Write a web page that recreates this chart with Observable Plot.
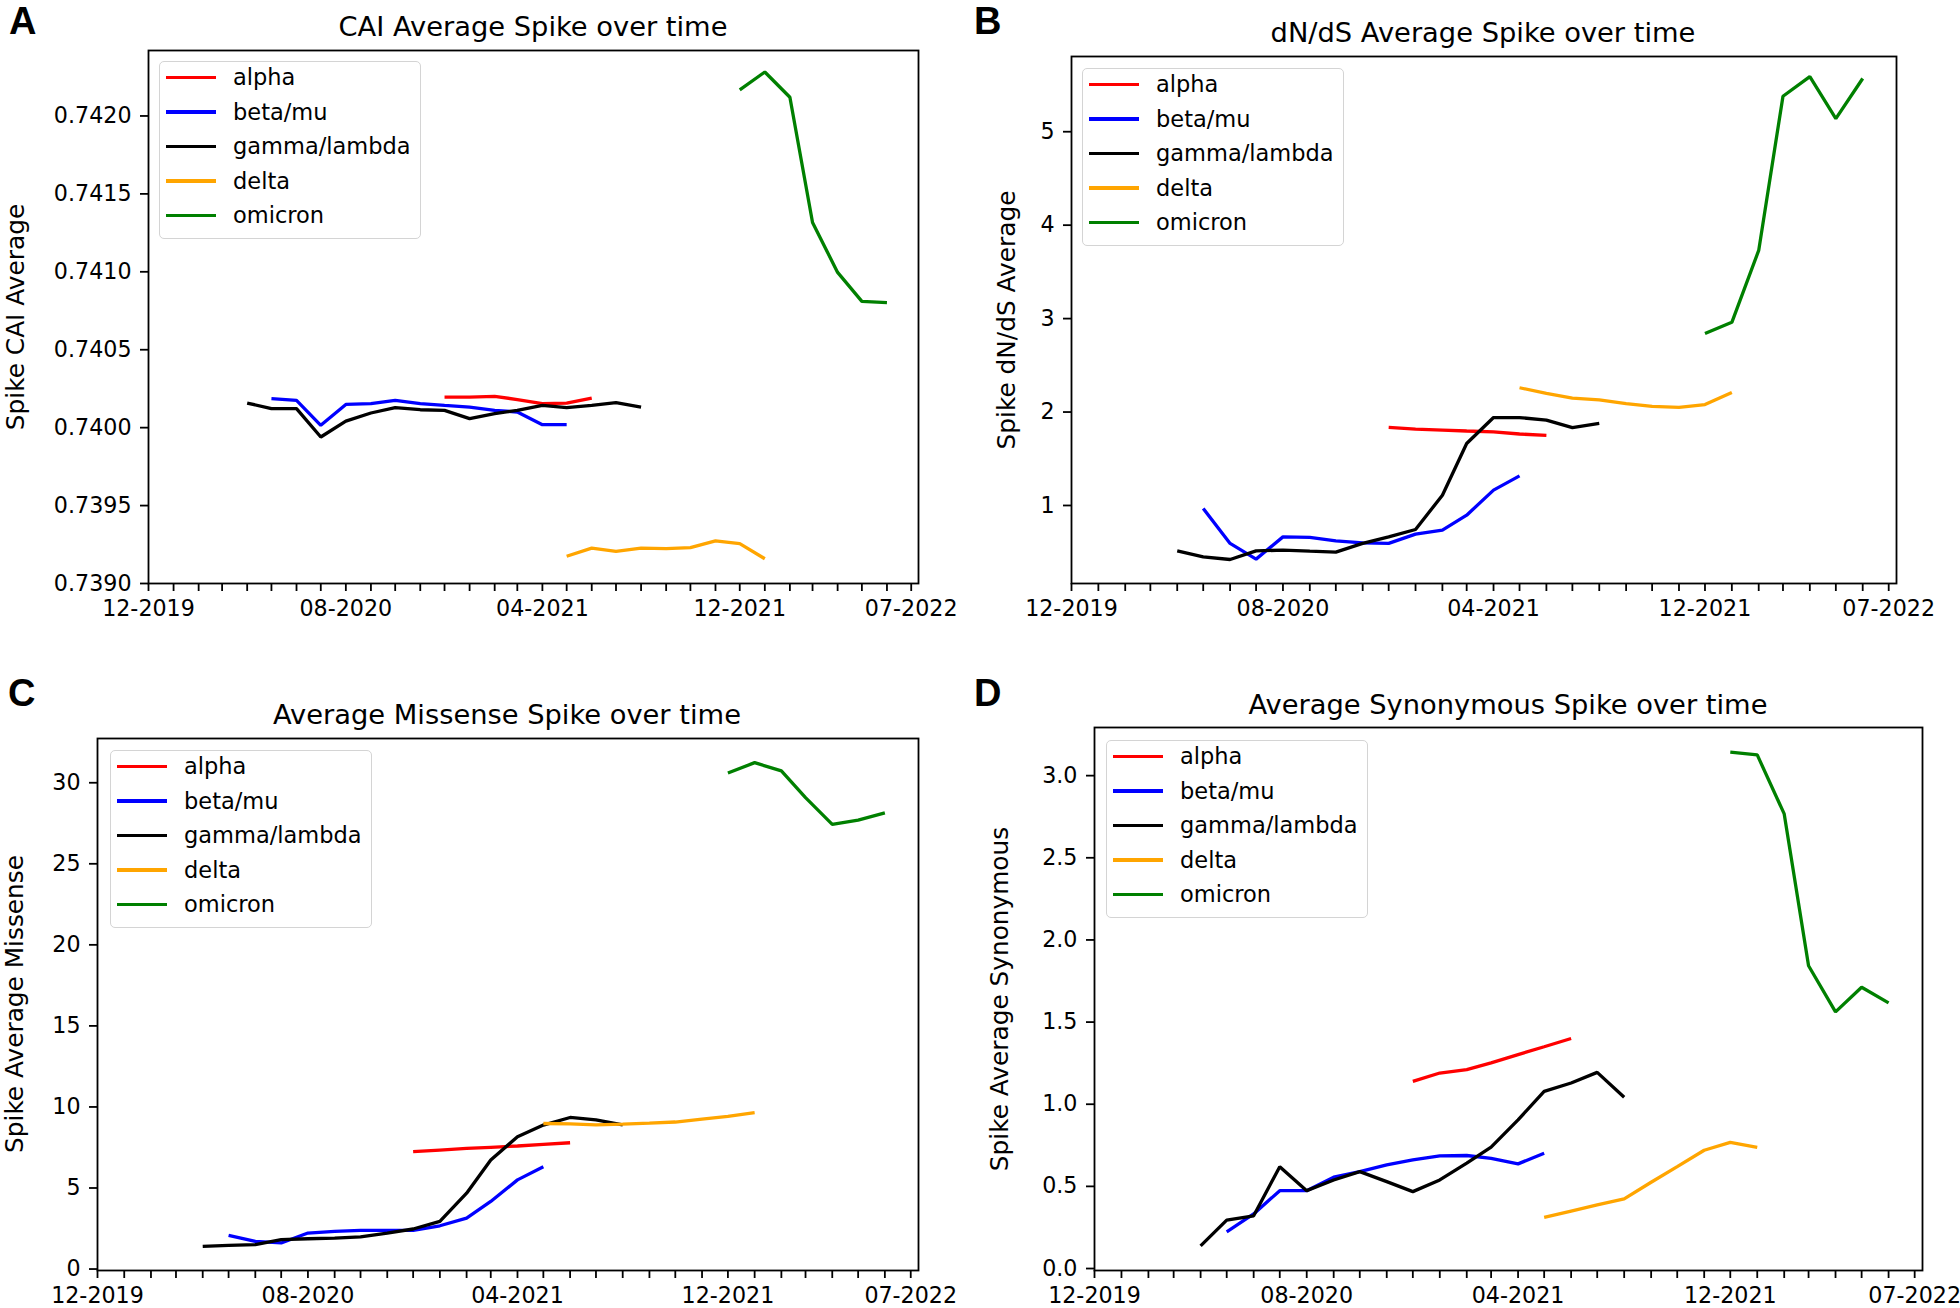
<!DOCTYPE html>
<html><head><meta charset="utf-8">
<script src="https://cdn.jsdelivr.net/npm/d3@7"></script>
<script src="https://cdn.jsdelivr.net/npm/@observablehq/plot@0.6"></script>
<style>
body{margin:0;background:#fff;}
#fig{position:relative;width:1960px;height:1308px;background:#fff;font-family:"DejaVu Sans",sans-serif;overflow:hidden;color:#000;}
.panel{position:absolute;}
.title{position:absolute;font-size:27.3px;line-height:1.164;white-space:nowrap;transform:translateX(-50%);}
.letter{position:absolute;font-family:"Liberation Sans",Arial,sans-serif;font-weight:bold;font-size:38px;line-height:1.117;}
.ylab{position:absolute;font-size:24.8px;line-height:1.164;white-space:nowrap;transform:translate(-50%,-50%) rotate(-90deg);}
.legend{position:absolute;width:262px;height:178px;border:1.5px solid #d4d4d4;border-radius:5px;background:rgba(255,255,255,0.8);box-sizing:border-box;}
.legend .row{position:absolute;left:0;height:30px;display:flex;align-items:center;}
.legend .sw{width:50px;height:3.4px;margin-left:6px;margin-right:17px;}
.legend .lt{font-size:22.5px;line-height:1.164;white-space:nowrap;}
</style></head>
<body>
<div id="fig"></div>
<script>
// ---- categories ----
const variantNames = ["alpha", "beta/mu", "gamma/lambda", "delta", "omicron"];
const variantColors = ["red", "blue", "black", "orange", "green"];

// ---- sampling months per variant ----
const alphaMonths = ["2020-12","2021-01","2021-02","2021-03","2021-04","2021-05","2021-06"];
const betaMonths = ["2020-05","2020-06","2020-07","2020-08","2020-09","2020-10","2020-11","2020-12","2021-01","2021-02","2021-03","2021-04","2021-05"];
const gammaMonths = ["2020-04","2020-05","2020-06","2020-07","2020-08","2020-09","2020-10","2020-11","2020-12","2021-01","2021-02","2021-03","2021-04","2021-05","2021-06","2021-07","2021-08"];
const deltaMonths = ["2021-05","2021-06","2021-07","2021-08","2021-09","2021-10","2021-11","2021-12","2022-01"];
const omicronMonths = ["2021-12","2022-01","2022-02","2022-03","2022-04","2022-05","2022-06"];

// ---- A: CAI ----
const caiAlpha = [0.740196, 0.740196, 0.740201, 0.740180, 0.740154, 0.740158, 0.740190];
const caiBeta = [0.740186, 0.740175, 0.740015, 0.740149, 0.740154, 0.740175, 0.740154, 0.740143, 0.740132, 0.740111, 0.740100, 0.740019, 0.740019];
const caiGamma = [0.740158, 0.740122, 0.740122, 0.739940, 0.740042, 0.740094, 0.740128, 0.740115, 0.740111, 0.740058, 0.740090, 0.740111, 0.740143, 0.740128, 0.740143, 0.740160, 0.740132];
const caiDelta = [0.739175, 0.739227, 0.739206, 0.739227, 0.739224, 0.739230, 0.739274, 0.739256, 0.739159];
const caiOmicron = [0.742167, 0.742282, 0.742120, 0.741316, 0.740996, 0.740810, 0.740802];

// ---- B: dN/dS ----
const dndsAlpha = [1.835, 1.818, 1.807, 1.797, 1.787, 1.765, 1.750];
const dndsBeta = [0.968, 0.594, 0.426, 0.664, 0.658, 0.622, 0.600, 0.594, 0.693, 0.736, 0.896, 1.164, 1.317];
const dndsGamma = [0.514, 0.450, 0.422, 0.514, 0.522, 0.511, 0.501, 0.594, 0.664, 0.743, 1.110, 1.663, 1.941, 1.941, 1.913, 1.834, 1.878];
const dndsDelta = [2.26, 2.20, 2.15, 2.13, 2.09, 2.06, 2.05, 2.08, 2.21];
const dndsOmicron = [2.84, 2.96, 3.73, 5.38, 5.59, 5.14, 5.57];

// ---- C: Missense ----
const misAlpha = [7.24, 7.34, 7.44, 7.51, 7.59, 7.69, 7.79];
const misBeta = [2.08, 1.71, 1.61, 2.22, 2.32, 2.38, 2.38, 2.38, 2.67, 3.14, 4.17, 5.50, 6.31];
const misGamma = [1.40, 1.46, 1.51, 1.81, 1.87, 1.91, 1.98, 2.22, 2.47, 2.94, 4.68, 6.73, 8.16, 8.88, 9.35, 9.20, 8.89];
const misDelta = [8.98, 8.96, 8.90, 8.94, 9.00, 9.07, 9.25, 9.42, 9.65];
const misOmicron = [30.60, 31.24, 30.73, 29.08, 27.43, 27.69, 28.14];

// ---- D: Synonymous ----
const synAlpha = [1.139, 1.190, 1.211, 1.252, 1.302, 1.350, 1.400];
const synBeta = [0.223, 0.332, 0.474, 0.474, 0.556, 0.590, 0.631, 0.661, 0.686, 0.688, 0.670, 0.637, 0.702];
const synGamma = [0.138, 0.295, 0.321, 0.620, 0.474, 0.539, 0.590, 0.529, 0.468, 0.539, 0.641, 0.739, 0.905, 1.078, 1.129, 1.194, 1.042];
const synDelta = [0.311, 0.350, 0.387, 0.424, 0.525, 0.620, 0.720, 0.768, 0.738];
const synOmicron = [3.143, 3.126, 2.767, 1.843, 1.562, 1.712, 1.617];

// ---- ticks ----
const caiTicks = [0.7390, 0.7395, 0.7400, 0.7405, 0.7410, 0.7415, 0.7420];
const dndsTicks = [1, 2, 3, 4, 5];
const misTicks = [0, 5, 10, 15, 20, 25, 30];
const synTicks = [0.0, 0.5, 1.0, 1.5, 2.0, 2.5, 3.0];
const xLabelMonths = ["2019-12", "2020-08", "2021-04", "2021-12", "2022-07"];
const xDomain = ["2019-12-01", "2022-07-10"];

const monthsBySeries = [alphaMonths, betaMonths, gammaMonths, deltaMonths, omicronMonths];
const toDate = m => new Date(m + "-01T00:00:00Z");
const monthTicks = d3.utcMonth.range(toDate("2019-12"), toDate("2022-08"));
const fmtKey = d3.utcFormat("%Y-%m");
const fmtLab = d3.utcFormat("%m-%Y");
const labelSet = new Set(xLabelMonths);
const TICK_FONT = 22.2;

const panels = [
  {key:"A", title:"CAI Average Spike over time", ylabel:"Spike CAI Average",
   values:[caiAlpha, caiBeta, caiGamma, caiDelta, caiOmicron], ticks:caiTicks, fmt:d3.format(".4f"),
   yDomain:[0.7390, 0.74242], left:0, top:0, mL:148, mR:62, mT:50, mB:71,
   titleX:533, titleTop:11, letterX:9, letterTop:0.3, ylabX:15.6, legX:159, legY:61},
  {key:"B", title:"dN/dS Average Spike over time", ylabel:"Spike dN/dS Average",
   values:[dndsAlpha, dndsBeta, dndsGamma, dndsDelta, dndsOmicron], ticks:dndsTicks, fmt:d3.format("d"),
   yDomain:[0.165, 5.805], left:980, top:0, mL:91, mR:64, mT:56, mB:71,
   titleX:1483, titleTop:17.2, letterX:974, letterTop:0.3, ylabX:1007, legX:1082, legY:68},
  {key:"C", title:"Average Missense Spike over time", ylabel:"Spike Average Missense",
   values:[misAlpha, misBeta, misGamma, misDelta, misOmicron], ticks:misTicks, fmt:d3.format("d"),
   yDomain:[-0.09, 32.73], left:0, top:654, mL:97, mR:62, mT:84, mB:38,
   titleX:507, titleTop:698.8, letterX:8, letterTop:671.6, ylabX:14.5, legX:110, legY:750},
  {key:"D", title:"Average Synonymous Spike over time", ylabel:"Spike Average Synonymous",
   values:[synAlpha, synBeta, synGamma, synDelta, synOmicron], ticks:synTicks, fmt:d3.format(".1f"),
   yDomain:[-0.012, 3.293], left:980, top:654, mL:114, mR:38, mT:73, mB:38,
   titleX:1508, titleTop:688.5, letterX:974, letterTop:671.6, ylabX:1000, legX:1106, legY:740}
];

const fig = document.getElementById("fig");

for (const p of panels) {
  const rows = [];
  variantNames.forEach((name, si) => {
    monthsBySeries[si].forEach((m, i) => rows.push({variant: name, date: toDate(m), value: p.values[si][i]}));
  });
  const W = 980, H = 654;
  const chart = Plot.plot({
    width: W, height: H,
    marginLeft: p.mL, marginRight: p.mR, marginTop: p.mT, marginBottom: p.mB,
    style: {fontFamily: "DejaVu Sans", fontSize: TICK_FONT + "px", color: "black", background: "transparent", overflow: "visible"},
    x: {type: "utc", domain: xDomain.map(d => new Date(d + "T00:00:00Z"))},
    y: {domain: p.yDomain},
    color: {domain: variantNames, range: variantColors},
    marks: [
      Plot.lineY(rows, {x: "date", y: "value", z: "variant", stroke: "variant", strokeWidth: 3.3, strokeLinejoin: "miter", strokeLinecap: "butt"}),
      Plot.axisY({ticks: p.ticks, tickSize: 8, tickPadding: 9, tickFormat: p.fmt, label: null, strokeWidth: 1.8, fontSize: TICK_FONT}),
      Plot.axisX({ticks: monthTicks, tickSize: 8, tickPadding: 9, label: null, strokeWidth: 1.8, fontSize: TICK_FONT,
        tickFormat: d => labelSet.has(fmtKey(d)) ? fmtLab(d) : ""}),
      Plot.frame({stroke: "black", strokeWidth: 1.8})
    ]
  });
  const holder = document.createElement("div");
  holder.className = "panel";
  holder.style.left = p.left + "px";
  holder.style.top = p.top + "px";
  holder.appendChild(chart);
  fig.appendChild(holder);

  const t = document.createElement("div");
  t.className = "title"; t.textContent = p.title;
  t.style.left = p.titleX + "px"; t.style.top = p.titleTop + "px";
  fig.appendChild(t);

  const l = document.createElement("div");
  l.className = "letter"; l.textContent = p.key;
  l.style.left = p.letterX + "px"; l.style.top = p.letterTop + "px";
  fig.appendChild(l);

  const frameTop = p.top + p.mT, frameBottom = p.top + H - p.mB;
  const yl = document.createElement("div");
  yl.className = "ylab"; yl.textContent = p.ylabel;
  yl.style.left = p.ylabX + "px"; yl.style.top = ((frameTop + frameBottom) / 2) + "px";
  fig.appendChild(yl);

  const lg = document.createElement("div");
  lg.className = "legend";
  lg.style.left = p.legX + "px"; lg.style.top = p.legY + "px";
  variantNames.forEach((name, i) => {
    const r = document.createElement("div");
    r.className = "row";
    r.style.top = (17 + 34.5 * i - 1.5 - 15) + "px";
    const sw = document.createElement("div");
    sw.className = "sw"; sw.style.background = variantColors[i];
    const tx = document.createElement("div");
    tx.className = "lt"; tx.textContent = name;
    r.appendChild(sw); r.appendChild(tx);
    lg.appendChild(r);
  });
  fig.appendChild(lg);
}
</script>
</body></html>
